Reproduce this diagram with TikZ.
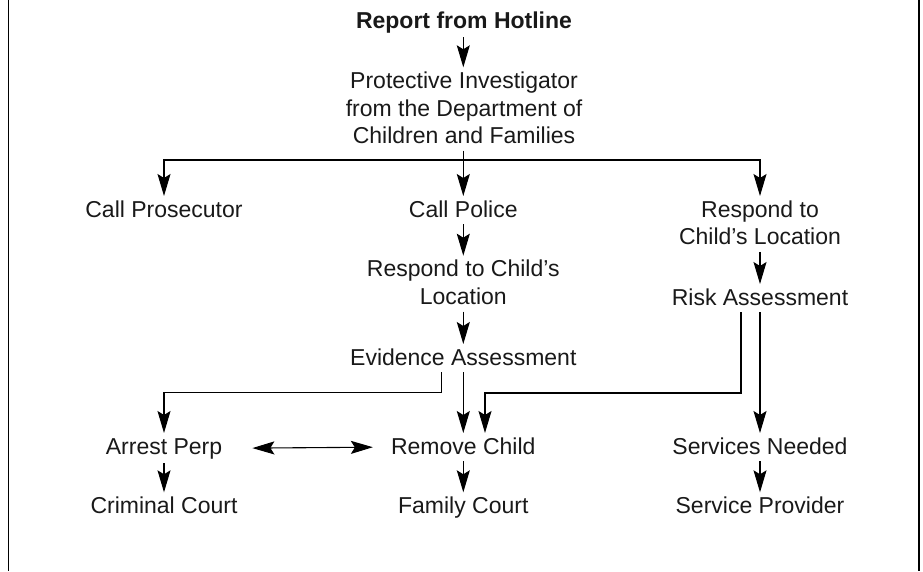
\documentclass[tikz,border=0pt]{standalone}
\usepackage{fontspec}
\setmainfont{Liberation Sans}
\usetikzlibrary{arrows.meta,calc}
\newcommand{\mystrut}{\rule[-3pt]{0pt}{20pt}}
\begin{document}
\begin{tikzpicture}[x=1pt,y=-1pt,
  lbl/.style={anchor=north, align=center, font=\fontsize{23}{27.5}\selectfont, inner xsep=0pt, inner ysep=4pt, text=black!90},
  tip/.tip={Stealth[length=22pt,width=13pt,inset=4pt]},
  arr/.style={-tip, line width=1.1pt},
  darr/.style={tip-tip, line width=1.1pt},
  plain/.style={line width=1.1pt},
  frame/.style={line width=1.5pt}
]
\useasboundingbox (0,0) rectangle (923,571);
\draw[frame] (8.5,0) -- (8.5,571);
\draw[frame] (919,0) -- (919,571);

\node[lbl, font=\fontsize{23}{27.5}\selectfont\bfseries] (hotline) at (464,7.3) {\mystrut Report from Hotline};
\node[lbl] (pi) at (464,67.3) {\mystrut Protective Investigator\\ \mystrut from the Department of\\ \mystrut Children and Families};
\node[lbl] (prosecutor) at (164,196) {\mystrut Call Prosecutor};
\node[lbl] (police) at (463.3,196) {\mystrut Call Police};
\node[lbl] (respondR) at (760,196) {\mystrut Respond to\\ \mystrut Child’s Location};
\node[lbl] (respondM) at (463.3,255.7) {\mystrut Respond to Child’s\\ \mystrut Location};
\node[lbl] (risk) at (760,284) {\mystrut Risk Assessment};
\node[lbl] (evid) at (463.3,344) {\mystrut Evidence Assessment};
\node[lbl] (arrest) at (164,433) {\mystrut Arrest Perp};
\node[lbl] (remove) at (463.3,433) {\mystrut Remove Child};
\node[lbl] (needed) at (760,433) {\mystrut Services Needed};
\node[lbl] (criminal) at (164,492.3) {\mystrut Criminal Court};
\node[lbl] (family) at (463.3,492.3) {\mystrut Family Court};
\node[lbl] (provider) at (760,492.3) {\mystrut Service Provider};

\coordinate (sp) at (463.3,160);
\coordinate (lb) at (164,392.7);
\coordinate (rb) at (485,393);

\draw[arr] (hotline.south -| 463.3,0) -- (pi.north -| 463.3,0);
\draw[plain] (pi.south -| sp) -- (sp);
\draw[arr] (sp) -- (police.north);
\draw[arr] (sp) -| (prosecutor.north);
\draw[arr] (sp) -| (respondR.north);
\draw[arr] (police.south) -- (respondM.north);
\draw[arr] (respondM.south) -- (evid.north);
\draw[arr] (respondR.south) -- (risk.north);
\draw[arr] (evid.south) -- (remove.north);
\draw[arr] ($(evid.south)+(-22,0)$) |- (lb) -- (arrest.north);
\draw[arr] ($(risk.south)+(-19,0)$) |- (rb) -- (rb |- remove.north);
\draw[arr] (risk.south) -- (needed.north);
\draw[darr] ([xshift=30pt]arrest.east) -- ([xshift=-18pt]remove.west);
\draw[arr] (arrest.south) -- (criminal.north);
\draw[arr] (remove.south) -- (family.north);
\draw[arr] (needed.south) -- (provider.north);
\end{tikzpicture}
\end{document}
